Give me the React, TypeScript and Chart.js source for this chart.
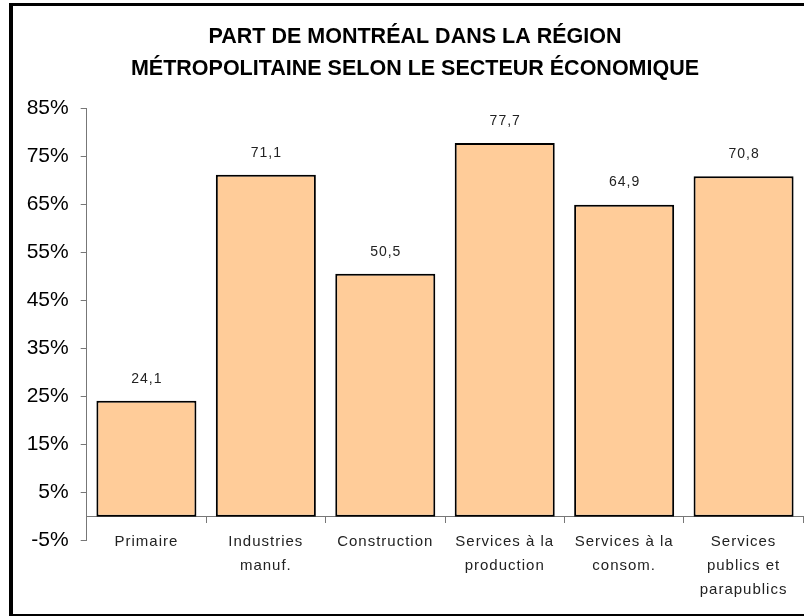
import React, { useEffect, useRef } from 'react';
import { Chart, registerables } from 'chart.js';

Chart.register(...registerables);

const TITLE_LINES = ['PART DE MONTRÉAL DANS LA RÉGION', 'MÉTROPOLITAINE SELON LE SECTEUR ÉCONOMIQUE'];
const CATEGORIES = [
  ['Primaire'],
  ['Industries', 'manuf.'],
  ['Construction'],
  ['Services à la', 'production'],
  ['Services à la', 'consom.'],
  ['Services', 'publics et', 'parapublics'],
];
const SHARE = [24.1, 71.1, 50.5, 77.7, 64.9, 70.8];
const Y_MIN = -5;
const Y_MAX = 85;
const Y_STEP = 10;

const FONT = '"Liberation Sans", Arial, sans-serif';

const framePlugin = {
  id: 'frame',
  beforeDraw(chart: any) {
    const ctx = chart.ctx;
    ctx.save();
    ctx.fillStyle = '#ffffff';
    ctx.fillRect(0, 0, chart.width, chart.height);
    ctx.fillStyle = '#000000';
    ctx.fillRect(9, 3, 4, 613);
    ctx.fillRect(9, 3, 800, 3);
    ctx.fillRect(9, 614, 800, 2);
    ctx.restore();
  },
};

const valueLabelPlugin = {
  id: 'valueLabels',
  afterDatasetsDraw(chart: any) {
    const ctx = chart.ctx;
    const meta = chart.getDatasetMeta(0);
    ctx.save();
    (ctx as any).letterSpacing = '1px';
    ctx.font = `14px ${FONT}`;
    ctx.fillStyle = '#222222';
    ctx.textAlign = 'center';
    ctx.textBaseline = 'middle';
    meta.data.forEach((bar: any, i: number) => {
      const v = chart.data.datasets[0].data[i] as number;
      ctx.fillText(v.toFixed(1).replace('.', ','), bar.x + 0.5, bar.y - 22);
    });
    ctx.restore();
    // letter spacing for the category labels drawn in the upper layer
    (ctx as any).letterSpacing = '1px';
  },
  afterDraw(chart: any) {
    (chart.ctx as any).letterSpacing = '0px';
  },
};

export default function App() {
  const ref = useRef<HTMLCanvasElement | null>(null);

  useEffect(() => {
    if (!ref.current) return;
    const chart = new Chart(ref.current, {
      type: 'bar',
      data: {
        labels: CATEGORIES,
        datasets: [
          {
            data: SHARE,
            backgroundColor: '#FFCC99',
            borderColor: '#000000',
            borderWidth: 2,
            borderSkipped: false,
            barPercentage: 0.8375,
            categoryPercentage: 1,
          },
        ],
      },
      options: {
        responsive: false,
        animation: false,
        devicePixelRatio: 1,
        layout: { padding: { left: 26.7, right: 0.7, top: 0, bottom: 75.3 } },
        plugins: {
          legend: { display: false },
          tooltip: { enabled: false },
          title: {
            display: true,
            text: TITLE_LINES,
            color: '#000000',
            font: { family: FONT, size: 21.5, weight: 'bold', lineHeight: '32px' },
            padding: { top: 21.5, bottom: 22.5 },
          },
        },
        scales: {
          x: {
            position: { y: 0 } as any,
            afterFit: (scale: any) => {
              scale.height = 0;
            },
            grid: {
              drawOnChartArea: false,
              drawTicks: true,
              tickLength: 6,
              color: '#777777',
              offset: true,
            },
            border: { display: true, color: '#777777', width: 1 },
            ticks: {
              z: 1,
              color: '#222222',
              padding: 7,
              maxRotation: 0,
              autoSkip: false,
              font: { family: FONT, size: 15, lineHeight: '24px' },
            },
          },
          y: {
            min: Y_MIN,
            max: Y_MAX,
            afterFit: (scale: any) => {
              scale.width = 60;
            },
            grid: {
              drawOnChartArea: false,
              drawTicks: true,
              tickLength: 6,
              color: '#777777',
            },
            border: { display: true, color: '#777777', width: 1 },
            ticks: {
              stepSize: Y_STEP,
              padding: 12,
              color: '#000000',
              font: { family: FONT, size: 21 },
              callback: (v: any) => `${v}%`,
            },
          },
        },
      },
      plugins: [framePlugin, valueLabelPlugin],
    });
    return () => chart.destroy();
  }, []);

  return (
    <div style={{ position: 'absolute', left: 0, top: 0, width: 804, height: 616 }}>
      <canvas ref={ref} width={804} height={616} style={{ display: 'block' }} />
    </div>
  );
}
